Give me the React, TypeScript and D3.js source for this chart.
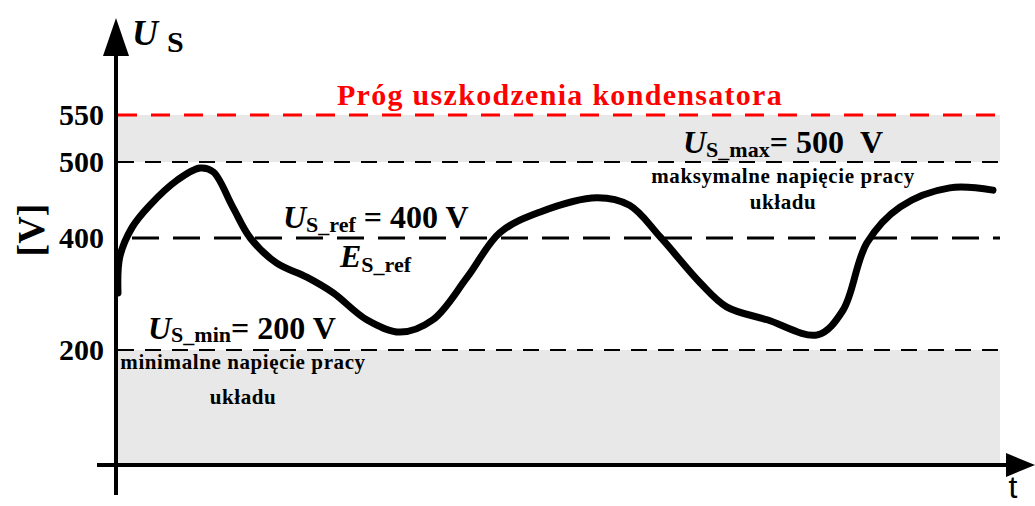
import React from "react";
import * as d3 from "d3";

// Schematic voltage waveform U_S(t)
const timeValues = [0, 0.2, 1.6, 3.6, 6.7, 9.3, 10.8, 13.0, 15.0, 18.0, 21.4, 24.4, 28.2, 32.0, 35.7, 39.6, 43.3, 47.8, 54.3, 58.0, 61.5, 66.0, 69.0, 73.6, 79.3, 82.2, 84.9, 88.7, 94.3, 99.2];
const voltageValues = [302, 366, 414, 443, 476, 492, 487, 441, 400, 355, 330, 302, 254, 232, 254, 330, 407, 434, 453, 443, 401, 320, 277, 254, 227, 271, 391, 441, 466, 463];

// Non-linear (schematic) voltage axis
const axisVoltages = [0, 200, 400, 500, 550];
const tickLabels = ["200", "400", "500", "550"];
const tickValues = [200, 400, 500, 550];

const W = 1035;
const H = 506;
const SERIF = "'Liberation Serif', 'Times New Roman', serif";

export default function App() {
  const x = d3.scaleLinear().domain([0, 100]).range([118, 1000]);
  const y = d3.scaleLinear().domain(axisVoltages).range([464, 350, 238, 162, 115]);

  const pts: [number, number][] = timeValues.map((t, i) => [t, voltageValues[i]]);
  const line = d3
    .line<[number, number]>()
    .x((d) => x(d[0]))
    .y((d) => y(d[1]))
    .curve(d3.curveCatmullRom.alpha(0.5));

  const x0 = x(0);
  const x1 = x(100);

  return (
    <svg
      width={W}
      height={H}
      style={{ position: "absolute", left: 0, top: 0, background: "#fff" }}
      fontFamily={SERIF}
    >
      {/* gray bands */}
      <rect x={x0} y={y(550)} width={x1 - x0} height={y(500) - y(550)} fill="#e8e8e8" />
      <rect x={x0} y={y(200)} width={x1 - x0} height={y(0) - y(200)} fill="#e8e8e8" />

      {/* reference lines */}
      <line x1={x0} x2={x1} y1={y(550)} y2={y(550)} stroke="#ff0000" strokeWidth={3} strokeDasharray="19 14" />
      <line x1={x0} x2={x1} y1={y(500)} y2={y(500)} stroke="#000" strokeWidth={2} strokeDasharray="16 11" />
      <line x1={132} x2={x1} y1={y(400)} y2={y(400)} stroke="#000" strokeWidth={3} strokeDasharray="27 14" />
      <line x1={x0} x2={x1} y1={y(200)} y2={y(200)} stroke="#000" strokeWidth={2} strokeDasharray="16 11" />

      {/* waveform */}
      <path d={line(pts) || ""} fill="none" stroke="#000" strokeWidth={7} strokeLinecap="round" strokeLinejoin="round" />

      {/* axes */}
      <line x1={116} x2={116} y1={50} y2={495} stroke="#000" strokeWidth={4} />
      <path d="M116,18 L103,56 L129,56 Z" fill="#000" />
      <line x1={97} x2={1010} y1={465} y2={465} stroke="#000" strokeWidth={4} />
      <path d="M1035,465 L1006,453 L1006,477 Z" fill="#000" />

      {/* tick labels */}
      {tickValues.map((v, i) => (
        <text key={v} x={104} y={y(v)} dy="0.34em" textAnchor="end" fontSize={30} fontWeight="bold">
          {tickLabels[i]}
        </text>
      ))}

      {/* axis titles */}
      <text x={132} y={45} fontSize={36} fontWeight="bold" fontStyle="italic">U</text>
      <text x={167} y={52} fontSize={30} fontWeight="bold">S</text>
      <text transform="translate(44,230) rotate(-90)" textAnchor="middle" fontSize={38} fontWeight="bold">[V]</text>
      <text x={1013} y={498} textAnchor="middle" fontSize={32} fontFamily="'Liberation Sans', Arial, sans-serif">t</text>

      {/* damage threshold title */}
      <text x={560} y={105} textAnchor="middle" fontSize={30} fontWeight="bold" fill="#ff0000" letterSpacing={1.3}>
        Próg uszkodzenia kondensatora
      </text>

      {/* U_S_max */}
      <text x={683} y={153} fontSize={32} fontWeight="bold">
        <tspan fontStyle="italic">U</tspan>
        <tspan fontSize={22} dy={4}>S_max</tspan>
        <tspan dy={-4}>= 500</tspan>
        <tspan dx={16}>V</tspan>
      </text>
      <text x={783} y={183} textAnchor="middle" fontSize={21} fontWeight="bold" letterSpacing={0.6}>maksymalne napięcie pracy</text>
      <text x={783} y={209} textAnchor="middle" fontSize={21} fontWeight="bold" letterSpacing={0.6}>układu</text>

      {/* U_S_ref */}
      <text x={283} y={228} fontSize={32} fontWeight="bold">
        <tspan fontStyle="italic">U</tspan>
        <tspan fontSize={22} dy={4}>S_ref</tspan>
        <tspan dy={-4}> = 400 V</tspan>
      </text>
      <text x={340} y={267} fontSize={32} fontWeight="bold">
        <tspan fontStyle="italic">E</tspan>
        <tspan fontSize={22} dy={5}>S_ref</tspan>
      </text>

      {/* U_S_min */}
      <text x={148} y={339} fontSize={32} fontWeight="bold">
        <tspan fontStyle="italic">U</tspan>
        <tspan fontSize={22} dy={3}>S_min</tspan>
        <tspan dy={-3}>= 200 V</tspan>
      </text>
      <text x={243} y={369} textAnchor="middle" fontSize={21} fontWeight="bold" letterSpacing={0.6}>minimalne napięcie pracy</text>
      <text x={243} y={404} textAnchor="middle" fontSize={21} fontWeight="bold" letterSpacing={0.6}>układu</text>
    </svg>
  );
}
